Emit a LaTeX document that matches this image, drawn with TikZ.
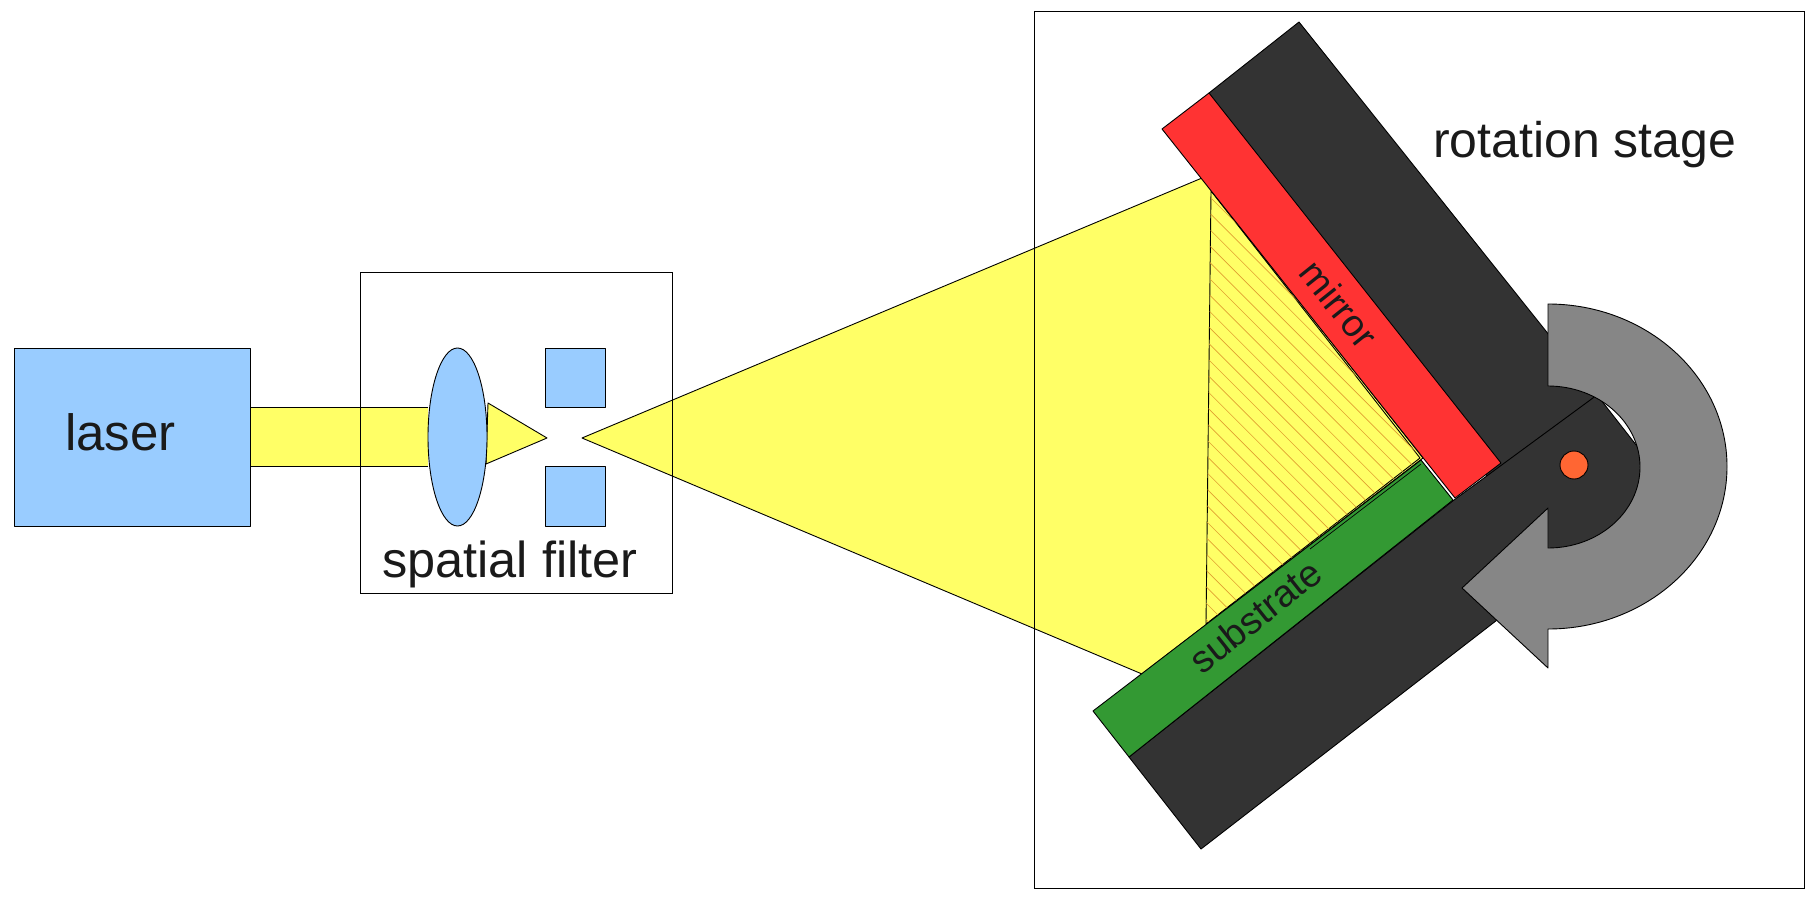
\documentclass[tikz,border=0pt]{standalone}
\usepackage{fontspec}
\setmainfont{Liberation Sans}
\definecolor{beamyellow}{HTML}{FFFF66}
\definecolor{opticblue}{HTML}{99CCFF}
\definecolor{mirrorred}{HTML}{FF3333}
\definecolor{substrategreen}{HTML}{339933}
\definecolor{stagedark}{HTML}{333333}
\definecolor{arrowgray}{HTML}{868686}
\definecolor{pivotorange}{HTML}{FF6633}
\definecolor{hatchorange}{HTML}{E0A030}
\definecolor{labelblack}{HTML}{1A1A1A}
\tikzset{
  part/.style={draw=black,line width=0.9pt,line join=round},
  framebox/.style={draw=black,line width=1pt},
  biglabel/.style={anchor=base west,inner sep=0pt,text=labelblack,font=\fontsize{50}{60}\selectfont},
  striplabel/.style={anchor=center,inner sep=0pt,text=labelblack,font=\fontsize{38}{46}\selectfont}
}
\begin{document}
\begin{tikzpicture}[x=1pt,y=-1pt]
\path[use as bounding box,fill=white] (0,0) rectangle (1812,904);
\fill[beamyellow] (250,407) rectangle (428,466);
\draw[part] (250,407) -- (428,407) (250,466) -- (428,466);
\draw[part,fill=beamyellow] (488,403) -- (547,438) -- (486,464) -- cycle;
\draw[part,fill=beamyellow] (582,438) -- (1202,178) -- (1423,458) -- (1142,674) -- cycle;
\draw[part,fill=beamyellow] (1211,191) -- (1420,458) -- (1206,624) -- cycle;
\begin{scope}
\clip (1211,191) -- (1420,458) -- (1206,624) -- cycle;
\foreach \hatchc in {1013,996.6,...,580}
  \draw[hatchorange,line width=0.65pt] ({\hatchc+150},150) -- ({\hatchc+700},700);
\end{scope}
\draw[framebox] (360,272) rectangle (672,593);
\draw[framebox] (1034,12) rectangle (1804,888);
\draw[part,fill=opticblue] (14,348) rectangle (250.5,526);
\draw[part,fill=opticblue] (457.5,437) ellipse [x radius=29.5,y radius=89];
\draw[part,fill=opticblue] (545,348) rectangle (605,407);
\draw[part,fill=opticblue] (545,466) rectangle (605,526);
\draw[part,fill=stagedark] (1209,93) -- (1299,22) -- (1597,395) -- (1490,480) -- cycle;
\draw[part,fill=stagedark] (1129,757) -- (1454,500) -- (1597,395) -- (1669,487) -- (1201,849) -- cycle;
\draw[part,fill=mirrorred] (1209,93) -- (1162,129) -- (1455,498) -- (1501,463) -- cycle;
\draw[part,fill=substrategreen] (1093,711) -- (1129,757) -- (1453,500) -- (1421,460) -- cycle;
\draw[part,line width=0.7pt] (1421,464) -- (1310,549);
\draw[part,fill=pivotorange] (1574,465) ellipse [x radius=14,y radius=14];
\draw[part,fill=arrowgray] (1548,304)
  arc[start angle=-90,end angle=90,x radius=179,y radius=162.5]
  -- (1548,668) -- (1462,588) -- (1548,508) -- (1548,548)
  arc[start angle=90,end angle=-90,x radius=92,y radius=81]
  -- cycle;
\node[biglabel,font=\fontsize{51}{60}\selectfont] (laserlabel) at (65,450) {laser};
\node[biglabel,font=\fontsize{50.5}{60}\selectfont] (filterlabel) at (382,577) {spatial filter};
\node[biglabel] (stagelabel) at (1433,158) {rotation stage};
\node[striplabel,rotate=-51.3] (mirrorlabel) at (1339,304) {mirror};
\node[striplabel,rotate=38.5] (substratelabel) at (1255,616) {substrate};
\end{tikzpicture}
\end{document}
